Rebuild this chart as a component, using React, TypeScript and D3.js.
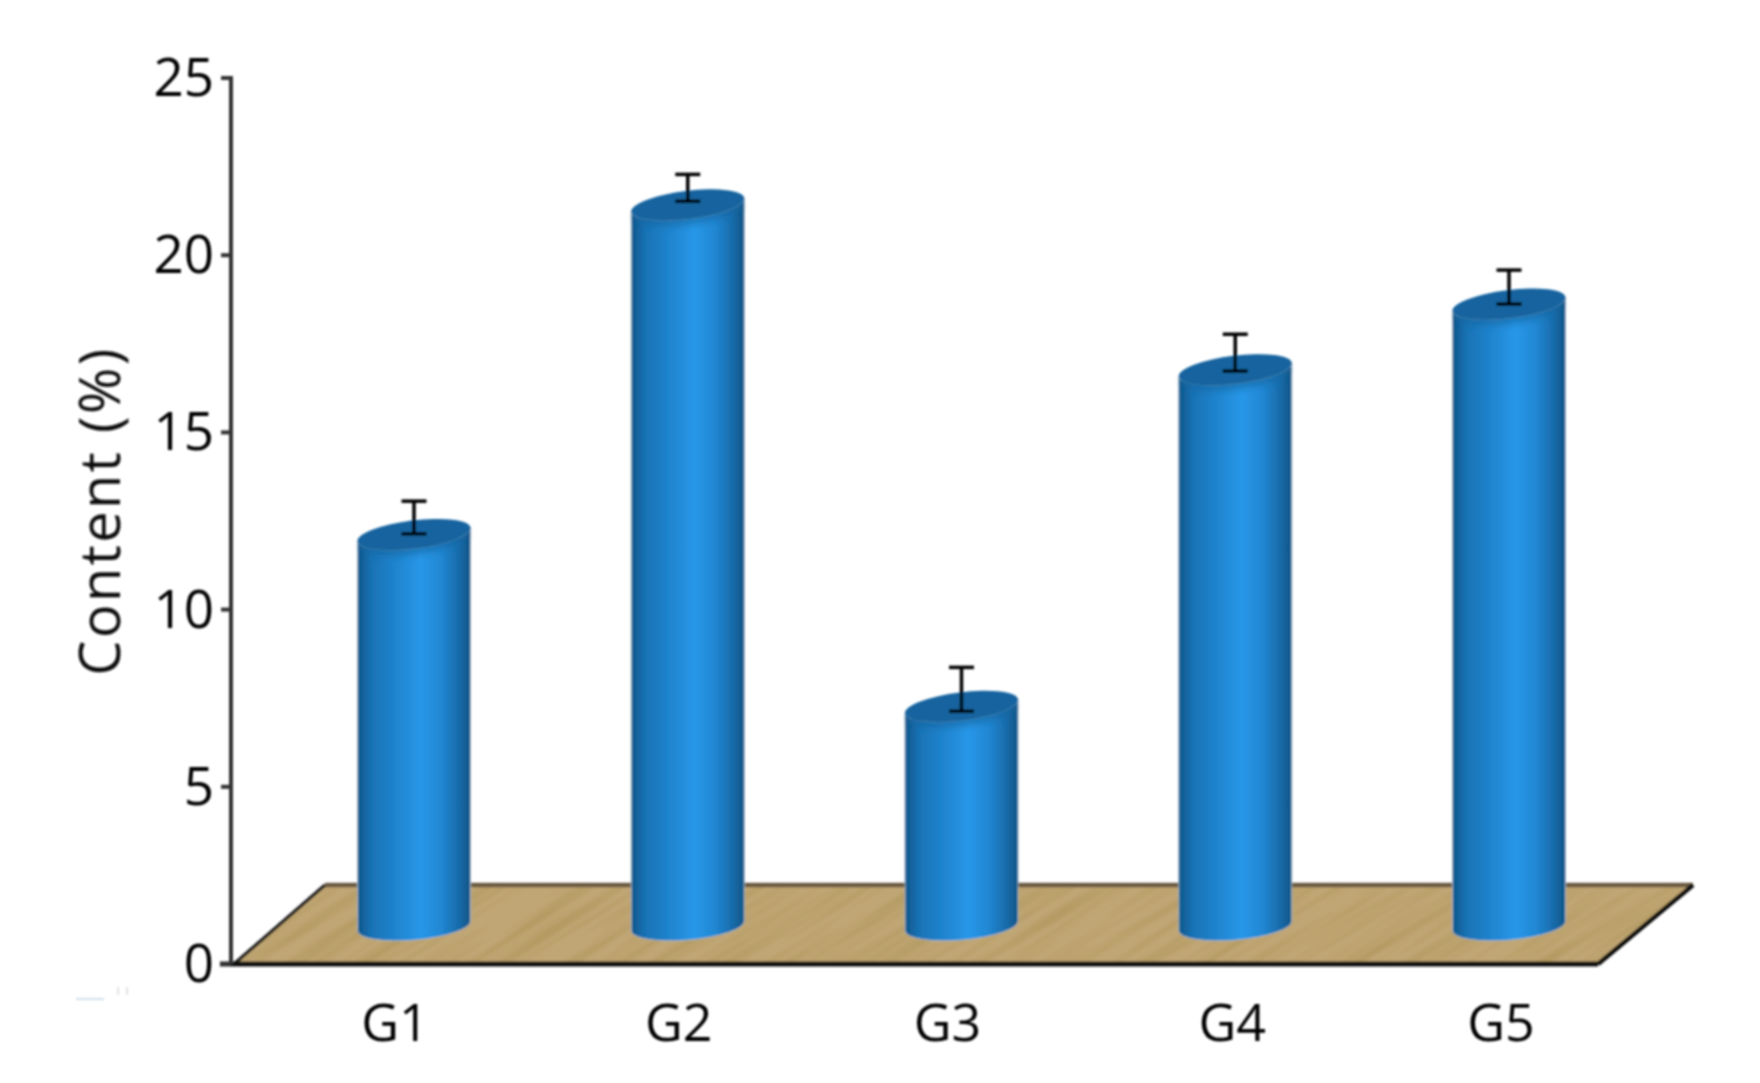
import React from "react";
import * as d3 from "d3";

const categories = ["G1", "G2", "G3", "G4", "G5"];
const values = [12.6, 21.9, 7.75, 17.25, 19.1];
const errors = [0.46, 0.38, 0.62, 0.52, 0.48];
const yTicks = [0, 5, 10, 15, 20, 25];
const yLabel = "Content (%)";

const width = 1760;
const height = 1083;
const axisX = 231;
const y0 = 964;
const yTop = 78;
const floorBack = 889 - 4;

// the labels are not spaced as evenly as the bars
const labelNudge = [-19, -9, -14, -3, -8];

const x = d3.scalePoint<string>().domain(categories).range([414, 1509]);
const y = d3.scaleLinear().domain([0, 25]).range([y0, yTop]);

// cylinder geometry
const r = 56.5;
const tiltTop = 7;
const tiltBase = 5;
const topDrop = 17;
const baseY = y0 - 38;

function cylinderBody(cx: number, top: number) {
  const dt = r * Math.tan((tiltTop * Math.PI) / 180);
  const db = r * Math.tan((tiltBase * Math.PI) / 180);
  const rxT = r / Math.cos((tiltTop * Math.PI) / 180);
  const rxB = r / Math.cos((tiltBase * Math.PI) / 180);
  return (
    `M${cx - r},${top + dt} L${cx - r},${baseY + db} ` +
    `A${rxB},14 ${-tiltBase} 0 0 ${cx + r},${baseY - db} ` +
    `L${cx + r},${top - dt} A${rxT},14 ${-tiltTop} 0 1 ${cx - r},${top + dt} Z`
  );
}

const floor = [
  [axisX + 3, y0],
  [325, floorBack],
  [1693, floorBack],
  [1598, y0],
];
const floorPath = d3.line()(floor as [number, number][]) + "Z";

export default function App() {
  return (
    <svg
      width={width}
      height={height}
      style={{ position: "absolute", left: 0, top: 0, background: "#fff" }}
      fontFamily="'Open Sans', 'Noto Sans', sans-serif"
    >
      <defs>
        <linearGradient id="cyl" x1="0" x2="1" y1="0" y2="0">
          <stop offset="0" stopColor="#0d5689" />
          <stop offset="0.12" stopColor="#1972b4" />
          <stop offset="0.35" stopColor="#2085d0" />
          <stop offset="0.56" stopColor="#2897e8" />
          <stop offset="0.74" stopColor="#2187d3" />
          <stop offset="0.9" stopColor="#186ba9" />
          <stop offset="1" stopColor="#0e5486" />
        </linearGradient>
        <filter id="grain" x="0" y="0" width="100%" height="100%">
          <feTurbulence type="fractalNoise" baseFrequency="0.006 0.11" numOctaves="3" seed="4" />
          <feColorMatrix values="0 0 0 0 0.42  0 0 0 0 0.30  0 0 0 0 0.10  2.4 0 0 0 -0.95" />
        </filter>
        <filter id="soft" x="-2%" y="-2%" width="104%" height="104%">
          <feGaussianBlur stdDeviation="0.9" />
        </filter>
        <filter id="shade" x="-10%" y="-30%" width="120%" height="160%">
          <feGaussianBlur stdDeviation="3" />
        </filter>
        <clipPath id="floorClip">
          <path d={floorPath} />
        </clipPath>
      </defs>

      <g filter="url(#soft)">
        {/* Floor */}
        <path d={floorPath} fill="#c0a674" />
        <g clipPath="url(#floorClip)">
          <rect
            x={100}
            y={500}
            width={1800}
            height={800}
            filter="url(#grain)"
            transform={`rotate(-32 960 925)`}
            opacity={0.6}
          />
        </g>
        <line x1={325} y1={floorBack} x2={1693} y2={floorBack} stroke="#6a5a42" strokeWidth={4.5} />
        <line x1={axisX + 3} y1={y0} x2={325} y2={floorBack} stroke="#222" strokeWidth={3.5} />
        <line x1={1598} y1={y0} x2={1693} y2={floorBack} stroke="#111" strokeWidth={4.5} />
        <line x1={axisX - 11} y1={y0} x2={1598} y2={y0} stroke="#111" strokeWidth={5} />

        {/* Axis */}
        <line x1={axisX} y1={yTop - 2} x2={axisX} y2={y0} stroke="#333" strokeWidth={4} />
        {yTicks.map((t) => (
          <g key={t}>
            <line x1={axisX - 10} x2={axisX} y1={y(t)} y2={y(t)} stroke="#333" strokeWidth={4} />
            <text
              x={axisX - 17}
              y={y(t)}
              dy="0.34em"
              textAnchor="end"
              fontSize={53}
              fill="#050505"
            >
              {t}
            </text>
          </g>
        ))}
        <text
          transform={`translate(120,511) rotate(-90)`}
          textAnchor="middle"
          fontSize={56}
          letterSpacing={2.4}
          fill="#101010"
        >
          {yLabel}
        </text>

        {/* Cylinders */}
        {categories.map((c, i) => {
          const cx = x(c)!;
          const top = y(values[i]) + topDrop;
          const rx = r / Math.cos((tiltTop * Math.PI) / 180);
          return (
            <g key={c}>
              <path d={cylinderBody(cx, top)} fill="url(#cyl)" stroke="#9db6c8" strokeWidth={1} />
              <ellipse
                cx={cx}
                cy={top + 6}
                rx={rx - 3}
                ry={14}
                fill="#13659f"
                opacity={0.6}
                filter="url(#shade)"
                transform={`rotate(${-tiltTop} ${cx} ${top + 6})`}
              />
              <ellipse
                cx={cx}
                cy={top}
                rx={rx}
                ry={14}
                fill="#14649f"
                transform={`rotate(${-tiltTop} ${cx} ${top})`}
              />
              <g stroke="#000" strokeWidth={3.5} fill="none">
                <line x1={cx} x2={cx} y1={y(values[i] + errors[i])} y2={y(values[i] - errors[i])} />
                <line x1={cx - 12.5} x2={cx + 12.5} y1={y(values[i] + errors[i])} y2={y(values[i] + errors[i])} />
                <line x1={cx - 12.5} x2={cx + 12.5} y1={y(values[i] - errors[i])} y2={y(values[i] - errors[i])} />
              </g>
              <text
                x={cx + labelNudge[i]}
                y={1041}
                textAnchor="middle"
                fontSize={52}
                fill="#050505"
              >
                {c}
              </text>
            </g>
          );
        })}

        {/* Faint leftover marks in the scan */}
        <line x1={76} x2={104} y1={999} y2={999} stroke="#cfe0ea" strokeWidth={2} />
        <line x1={118} x2={118} y1={987} y2={995} stroke="#d8d8d8" strokeWidth={1.5} />
        <line x1={127} x2={127} y1={987} y2={995} stroke="#d8d8d8" strokeWidth={1.5} />
      </g>
    </svg>
  );
}
